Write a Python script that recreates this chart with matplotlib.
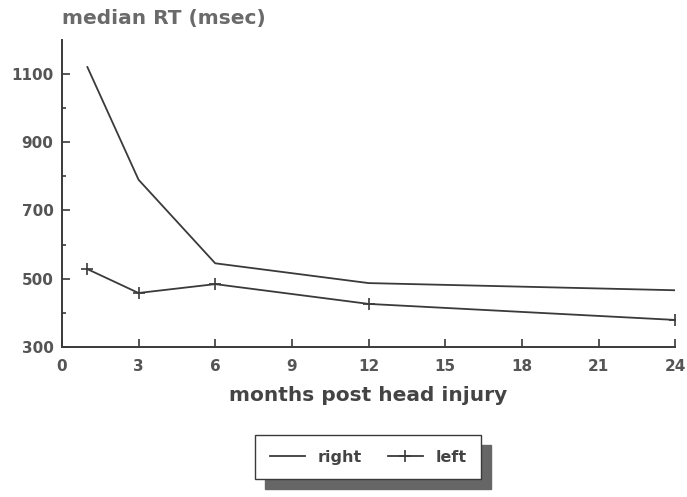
import matplotlib.pyplot as plt
import numpy as np

# median reaction time by months after head injury
months = [1, 3, 6, 12, 24]
right_rt = [1120, 790, 545, 487, 466]
left_rt = [528, 458, 484, 426, 379]

x_ticks = [0, 3, 6, 9, 12, 15, 18, 21, 24]
y_ticks = [300, 500, 700, 900, 1100]

ink = "#3a3a3a"
label_col = "#555555"

plt.rcParams["font.family"] = ["DejaVu Sans"]
plt.rcParams["font.weight"] = "bold"

fig = plt.figure(figsize=(6.87, 4.97), dpi=100)
ax = fig.add_axes([0.090, 0.302, 0.893, 0.618])

ax.plot(months, right_rt, color=ink, lw=1.3, label="right")
ax.plot(months, left_rt, color=ink, lw=1.3, marker="+", ms=8, mew=1.2,
        label="left")

ax.set_xlim(0, 24)
ax.set_ylim(300, 1200)
ax.set_xticks(x_ticks)
ax.set_yticks(y_ticks)
ax.set_yticks(np.arange(400, 1200, 200), minor=True)

for side in ("top", "right"):
    ax.spines[side].set_visible(False)
for side in ("left", "bottom"):
    ax.spines[side].set_color(ink)
    ax.spines[side].set_linewidth(1.4)

ax.tick_params(axis="both", direction="in", length=6, width=1.2,
               color=ink, labelcolor=label_col, labelsize=11, pad=6)
ax.tick_params(axis="x", pad=9)
ax.tick_params(axis="y", which="minor", direction="in", length=3,
               width=1.2, color=ink)

fig.text(0.090, 0.962, "median RT (msec)", fontsize=14.5, color="#6a6a6a",
         fontweight="bold", ha="left", va="center")
ax.set_xlabel("months post head injury", fontsize=14.5, color="#444444",
              fontweight="bold", labelpad=8)

fig.legend(loc="center", bbox_to_anchor=(0.536, 0.08), ncol=2,
           frameon=True, fancybox=False, edgecolor=ink,
           shadow={"ox": 7, "oy": -7, "color": "#666666", "alpha": 1},
           fontsize=11.5, handlelength=2.2, columnspacing=1.6,
           borderpad=0.9, labelcolor="#444444")

fig.savefig("out.png", dpi=100, facecolor="white")
